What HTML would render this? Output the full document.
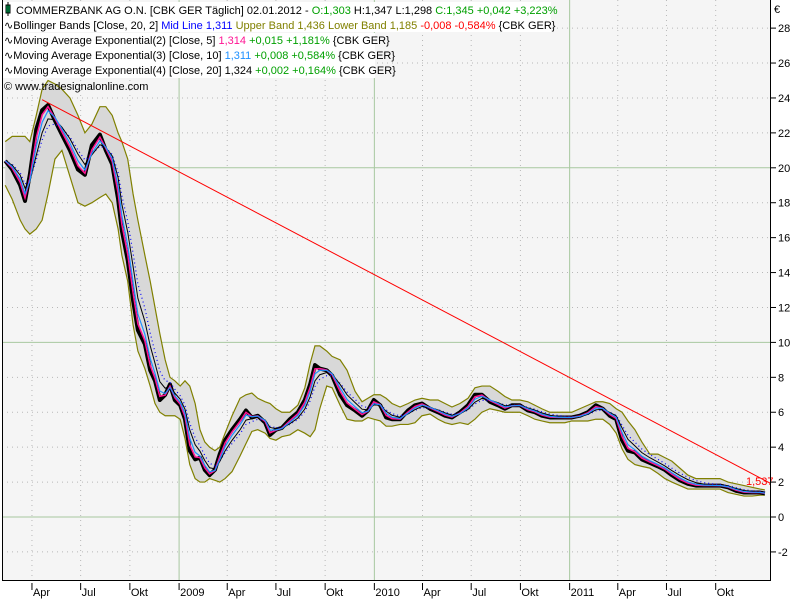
<!DOCTYPE html>
<html><head><meta charset="utf-8"><style>
body{margin:0;background:#fff;}
svg{display:block;font-family:"Liberation Sans",sans-serif;}
</style></head><body>
<svg id="chart" width="800" height="600">
<rect x="2" y="0" width="768" height="580" fill="#f5f5f5"/>
<g id="grid"></g><g id="bands"></g><g id="series"></g><g id="axes"></g>
<g id="legend" font-size="11">
<rect x="3" y="2" width="548" height="15" fill="#fff"/>
<rect x="3" y="17" width="548" height="15" fill="#fff"/>
<rect x="3" y="33" width="372" height="15" fill="#fff"/>
<rect x="3" y="48" width="372" height="15" fill="#fff"/>
<rect x="3" y="63" width="372" height="15" fill="#fff"/>
<rect x="6" y="5" width="4" height="8" fill="#00cc66" stroke="#000" stroke-width="1"/>
<line x1="8" y1="2" x2="8" y2="16" stroke="#000"/>
<text x="16" y="14"><tspan fill="#000">COMMERZBANK AG O.N. [CBK GER  Täglich] 02.01.2012 - </tspan><tspan fill="#00a000">O:1,303 </tspan><tspan fill="#000">H:1,347 L:1,298 </tspan><tspan fill="#00a000">C:1,345 +0,042 +3,223%</tspan></text>
<text x="4" y="29"><tspan>∿Bollinger Bands [Close, 20, 2] </tspan><tspan fill="#0000ff">Mid Line 1,311 </tspan><tspan fill="#808000">Upper Band 1,436 Lower Band 1,185 </tspan><tspan fill="#ff0000">-0,008 -0,584% </tspan><tspan>{CBK GER}</tspan></text>
<text x="4" y="44"><tspan>∿Moving Average Exponential(2) [Close, 5] </tspan><tspan fill="#ff1493">1,314 </tspan><tspan fill="#00a000">+0,015 +1,181% </tspan><tspan>{CBK GER}</tspan></text>
<text x="4" y="59"><tspan>∿Moving Average Exponential(3) [Close, 10] </tspan><tspan fill="#1e90ff">1,311 </tspan><tspan fill="#00a000">+0,008 +0,584% </tspan><tspan>{CBK GER}</tspan></text>
<text x="4" y="74"><tspan>∿Moving Average Exponential(4) [Close, 20] 1,324 </tspan><tspan fill="#00a000">+0,002 +0,164% </tspan><tspan>{CBK GER}</tspan></text>
<text x="4" y="90">© www.tradesignalonline.com</text>
</g>
<text x="774" y="13" font-size="11">€</text>
</svg>
<script>
// days since 2008-01-01
const days=[41,54,69,78,87,99,110,121,134,147,162,177,190,203,218,229,241,252,259,270,280,289,302,312,321,330,340,349,358,368,377,386,396,405,414,423,433,442,452,465,480,491,502,513,527,536,547,558,573,588,601,611,620,629,642,652,667,680,695,708,719,730,742,753,764,779,794,807,820,835,850,863,876,891,906,919,932,947,962,975,988,1003,1018,1031,1044,1059,1074,1087,1100,1115,1130,1145,1158,1171,1183,1194,1205,1218,1231,1246,1261,1274,1287,1302,1317,1332,1347,1362,1377,1392,1407,1422,1437,1452,1461];
const closes=[20.4,19.9,19.0,18.1,19.6,22.2,23.3,23.6,22.7,21.9,21.0,19.9,19.6,21.3,21.9,21.0,20.2,18.2,16.4,14.7,12.4,10.7,9.9,8.4,7.8,6.7,7.0,7.6,6.7,6.4,5.6,3.8,3.3,3.4,2.7,2.4,2.7,3.6,4.4,5.0,5.6,6.1,5.7,5.8,5.4,4.7,5.0,5.1,5.6,6.0,6.7,7.6,8.7,8.5,8.4,8.1,7.0,6.4,6.1,5.8,6.1,6.7,6.4,5.7,5.6,5.6,6.1,6.4,6.5,6.2,6.0,5.8,5.7,6.0,6.4,7.0,7.0,6.6,6.4,6.2,6.4,6.4,6.1,6.0,5.8,5.7,5.7,5.7,5.7,5.8,6.0,6.4,6.2,5.8,5.6,4.4,3.8,3.7,3.3,3.1,2.9,2.7,2.4,2.1,1.9,1.8,1.8,1.8,1.8,1.7,1.5,1.4,1.4,1.4,1.35];
const upper=[21.5,21.8,21.8,21.8,21.5,23.0,24.5,25.0,24.8,24.5,24.0,23.0,22.0,22.5,23.5,23.5,23.0,22.0,21.5,20.5,18.5,17.0,15.0,13.5,12.0,10.5,9.0,8.0,7.8,7.5,7.8,7.5,6.5,5.0,4.3,4.0,3.8,4.0,4.8,5.8,6.8,7.0,7.1,6.8,6.6,6.5,6.2,6.0,6.0,6.4,7.4,8.8,9.8,9.8,9.5,9.2,9.0,8.4,7.2,6.6,6.8,7.0,7.0,6.8,6.5,6.3,6.5,6.7,6.8,6.7,6.7,6.5,6.3,6.5,6.8,7.4,7.5,7.5,7.2,6.9,6.7,6.7,6.6,6.4,6.2,6.0,6.0,6.0,6.0,6.2,6.4,6.6,6.6,6.5,6.2,6.0,5.5,5.0,4.3,3.6,3.6,3.4,3.2,2.8,2.4,2.2,2.2,2.2,2.2,2.0,1.9,1.8,1.7,1.6,1.55];
const lower=[19.0,18.2,17.0,16.5,16.2,16.5,17.0,18.5,20.5,21.0,19.5,18.0,17.8,18.0,18.3,18.5,18.0,16.5,15.0,13.5,11.0,9.5,8.5,7.5,6.5,6.0,5.8,5.8,5.8,5.6,4.5,3.0,2.2,2.0,2.0,2.2,2.1,2.0,2.2,2.6,3.5,4.2,4.9,5.0,4.8,4.5,4.4,4.6,4.7,5.0,4.8,4.6,5.0,6.2,7.5,7.4,6.4,5.6,5.5,5.5,5.7,5.6,5.5,5.2,5.2,5.3,5.3,5.4,5.8,5.9,5.6,5.4,5.3,5.4,5.3,5.6,6.0,6.2,6.1,6.0,6.0,6.0,5.8,5.6,5.5,5.4,5.4,5.4,5.5,5.5,5.5,5.6,5.6,5.3,4.8,3.9,3.3,3.0,2.9,2.8,2.5,2.2,2.0,1.8,1.6,1.6,1.6,1.6,1.6,1.4,1.3,1.2,1.2,1.25,1.25];
const yTicks=[-2,0,2,4,6,8,10,12,14,16,18,20,22,24,26,28];
const monthLabels=["Apr","Jul","Okt","2009","Apr","Jul","Okt","2010","Apr","Jul","Okt","2011","Apr","Jul","Okt"];
const monthDays=[91,182,274,366,456,547,639,731,821,912,1004,1096,1186,1277,1369];
const trendStart=[110,23.9], trendEnd=[1470,1.95], trendLabel="1,537";

const NS="http://www.w3.org/2000/svg";
const X=d=>2+(d-35)*0.535;
const Y=v=>517-17.46*v;
function mk(tag,attrs,parent){const e=document.createElementNS(NS,tag);for(const k in attrs)e.setAttribute(k,attrs[k]);document.getElementById(parent).appendChild(e);return e;}
yTicks.forEach(v=>{const solid=v%10===0;
 const l=mk('line',{x1:2,x2:770,y1:Y(v),y2:Y(v),stroke:solid?'#a8c8a0':'#b8b8b8','stroke-dasharray':solid?'':'1,4'},'grid');
 
 
 const t=mk('line',{x1:770,x2:776,y1:Y(v),y2:Y(v),stroke:'#000'},'axes');
 
 
 const tx=mk('text',{x:778,y:Y(v)+4,'font-size':11},'axes');tx.textContent=String(v);
 
 
});
monthDays.forEach((d,i)=>{const yr=/^\d+$/.test(monthLabels[i]);
 const l=mk('line',{x1:X(d),x2:X(d),y1:0,y2:580,stroke:yr?'#a8c8a0':'#b8b8b8','stroke-dasharray':yr?'':'1,4'},'grid');
 
 
 const t=mk('line',{x1:X(d),x2:X(d),y1:583,y2:590,stroke:'#000'},'axes');
 
 
 const tx=mk('text',{x:X(d)+1,y:596,'font-size':11},'axes');tx.textContent=monthLabels[i];
 
 
});
const ax=mk('path',{d:'M2.5,0V580.5H770.5V0',fill:'none',stroke:'#000'},'axes');


let up=days.map((d,i)=>X(d)+','+Y(upper[i])), lo=days.map((d,i)=>X(d)+','+Y(lower[i])).reverse();
const bf=mk('polygon',{points:up.concat(lo).join(' '),fill:'#d8d8d8',stroke:'none'},'bands');


const bu=mk('polyline',{points:up.join(' '),fill:'none',stroke:'#808000','stroke-width':1.2},'bands');


const bl=mk('polyline',{points:lo.join(' '),fill:'none',stroke:'#808000','stroke-width':1.2},'bands');


function ema(a,n){const k=2/(n+1);let r=[],p=a[0];a.forEach(v=>{p=p+k*(v-p);r.push(p);});return r;}
const pts=a=>days.map((d,i)=>X(d)+','+Y(a[i])).join(' ');
const pc=mk('polyline',{points:pts(closes),fill:'none',stroke:'#000','stroke-width':4,'stroke-linejoin':'round'},'series');


const mid=mk('polyline',{points:pts(ema(closes,4)),fill:'none',stroke:'#0000ff','stroke-width':1.2,'stroke-dasharray':'1,3'},'series');


const e20=mk('polyline',{points:pts(ema(closes,3)),fill:'none',stroke:'#000','stroke-width':1},'series');


const e5=mk('polyline',{points:pts(ema(closes,1.4)),fill:'none',stroke:'#ff1493','stroke-width':1.5},'series');


const e10=mk('polyline',{points:pts(ema(closes,2)),fill:'none',stroke:'#1e90ff','stroke-width':1.2},'series');


const tl=mk('line',{x1:X(trendStart[0]),y1:Y(trendStart[1]),x2:X(trendEnd[0]),y2:Y(trendEnd[1]),stroke:'#ff0000','stroke-width':1},'series');


const tt=mk('text',{x:746,y:Y(trendEnd[1])+2,'font-size':11,fill:'#ff0000'},'series');tt.textContent=trendLabel;


</script>
</body></html>
